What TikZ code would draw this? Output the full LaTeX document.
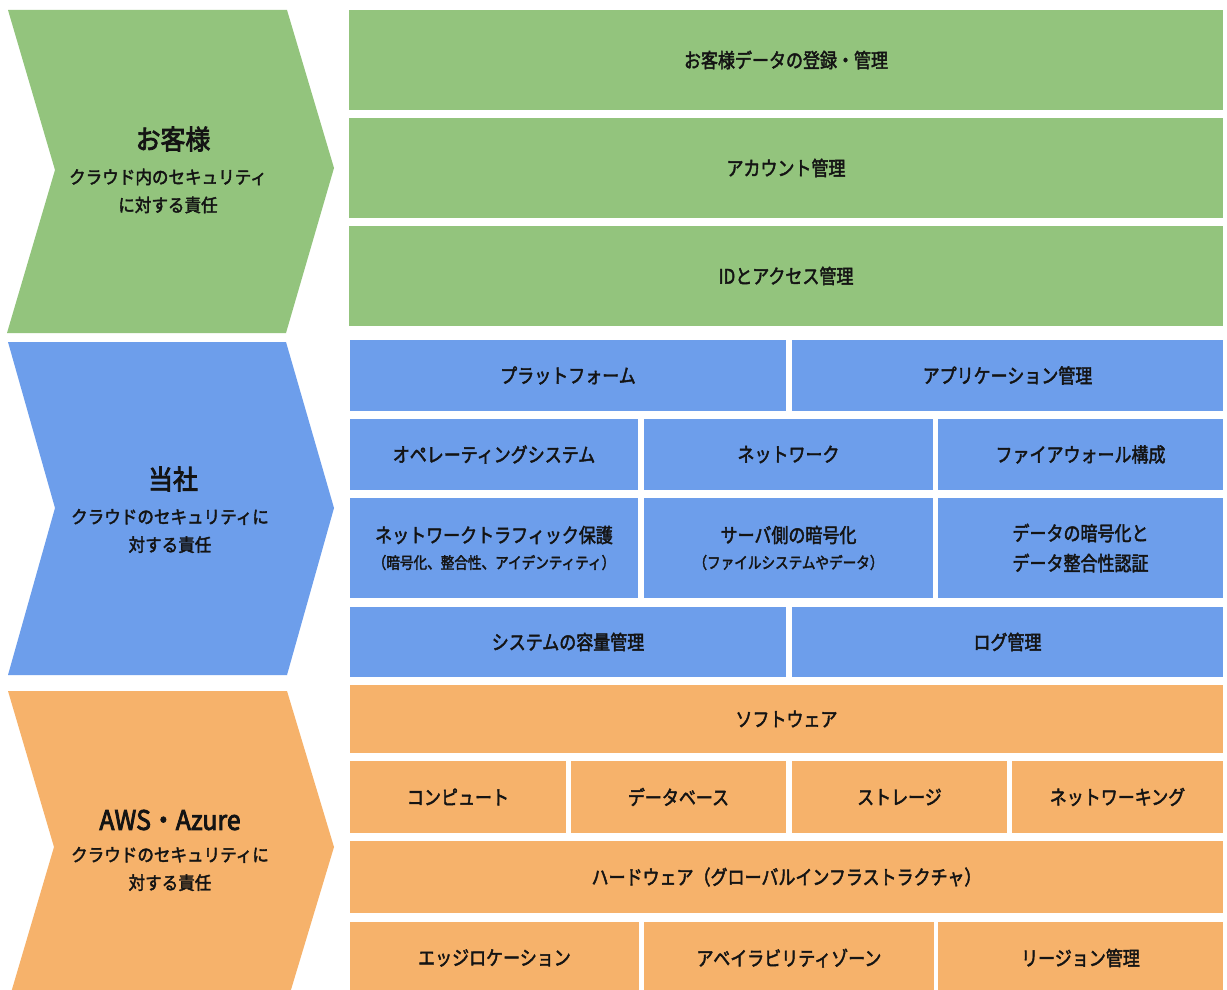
\documentclass[tikz,border=0pt]{standalone}
\usepackage{fontspec}
\newfontfamily\jp[FakeStretch=0.85,FakeBold=2.2]{Noto Sans CJK JP}
\newfontfamily\jpc[FakeStretch=0.92,FakeBold=2.2]{Noto Sans CJK JP}
\newfontfamily\jpt[FakeStretch=0.92,FakeBold=3]{Noto Sans CJK JP}
\definecolor{gcol}{HTML}{93C47D}
\definecolor{bcol}{HTML}{6D9EEB}
\definecolor{ocol}{HTML}{F6B26B}
\definecolor{tcol}{HTML}{141414}
\tikzset{
  cell/.style={rectangle, inner sep=0pt, align=center, text=tcol,
    font=\jp\fontsize{20}{26}\selectfont},
  ctitle/.style={inner sep=0pt, text=tcol, font=\jpt\fontsize{27}{30}\selectfont},
  csub/.style={inner sep=0pt, align=center, text=tcol, font=\jpc\fontsize{18}{28}\selectfont},
}
\newcommand\subl[1]{{\fontsize{16}{26}\selectfont #1}}
\begin{document}
\begin{tikzpicture}[x=1pt,y=-1pt]
\clip (0,0) rectangle (1227,990);
\fill[white] (0,0) rectangle (1227,990);
% chevrons
\fill[gcol] (8,10) -- (287,10) -- (334,168) -- (286,333) -- (7,333) -- (55,170) -- cycle;
\fill[bcol] (8,342) -- (286,342) -- (334,508) -- (287,675) -- (8,675) -- (55,508) -- cycle;
\fill[ocol] (8,691) -- (287,691) -- (334,847) -- (287,1003) -- (8,1003) -- (54,847) -- cycle;
\node[ctitle] (t1) at (173,139) {お客様};
\node[csub] (s1) at (168,191) {クラウド内のセキュリティ\\に対する責任};
\node[ctitle] (t2) at (173,479) {当社};
\node[csub] (s2) at (170,531) {クラウドのセキュリティに\\対する責任};
\node[ctitle] (t3) at (170,820) {AWS・Azure};
\node[csub] (s3) at (170,869) {クラウドのセキュリティに\\対する責任};
% green rows
\node[cell, fill=gcol, minimum width=874, minimum height=100] (g1) at (786,60) {お客様データの登録・管理};
\node[cell, fill=gcol, minimum width=874, minimum height=100] (g2) at (786,168) {アカウント管理};
\node[cell, fill=gcol, minimum width=874, minimum height=100] (g3) at (786,276) {IDとアクセス管理};
% blue rows
\node[cell, fill=bcol, minimum width=436, minimum height=71] (b11) at (568,375.5) {プラットフォーム};
\node[cell, fill=bcol, minimum width=431, minimum height=71] (b12) at (1007.5,375.5) {アプリケーション管理};
\node[cell, fill=bcol, minimum width=288, minimum height=71] (b21) at (494,454.5) {オペレーティングシステム};
\node[cell, fill=bcol, minimum width=289, minimum height=71] (b22) at (788.5,454.5) {ネットワーク};
\node[cell, fill=bcol, minimum width=285, minimum height=71] (b23) at (1080.5,454.5) {ファイアウォール構成};
\node[cell, fill=bcol, minimum width=288, minimum height=100] (b31) at (494,548) {ネットワークトラフィック保護\\\subl{（暗号化、整合性、アイデンティティ）}};
\node[cell, fill=bcol, minimum width=289, minimum height=100] (b32) at (788.5,548) {サーバ側の暗号化\\\subl{（ファイルシステムやデータ）}};
\node[cell, fill=bcol, minimum width=285, minimum height=100, font=\jp\fontsize{20}{30}\selectfont] (b33) at (1080.5,548) {データの暗号化と\\データ整合性認証};
\node[cell, fill=bcol, minimum width=436, minimum height=70] (b41) at (568,642) {システムの容量管理};
\node[cell, fill=bcol, minimum width=431, minimum height=70] (b42) at (1007.5,642) {ログ管理};
% orange rows
\node[cell, fill=ocol, minimum width=873, minimum height=68] (o1) at (786.5,719) {ソフトウェア};
\node[cell, fill=ocol, minimum width=216, minimum height=72] (o21) at (458,797) {コンピュート};
\node[cell, fill=ocol, minimum width=215, minimum height=72] (o22) at (678.5,797) {データベース};
\node[cell, fill=ocol, minimum width=215, minimum height=72] (o23) at (899.5,797) {ストレージ};
\node[cell, fill=ocol, minimum width=211, minimum height=72] (o24) at (1117.5,797) {ネットワーキング};
\node[cell, fill=ocol, minimum width=873, minimum height=72] (o3) at (786.5,877) {ハードウェア（グローバルインフラストラクチャ）};
\node[cell, fill=ocol, minimum width=289, minimum height=72] (o41) at (494.5,958) {エッジロケーション};
\node[cell, fill=ocol, minimum width=290, minimum height=72] (o42) at (789,958) {アベイラビリティゾーン};
\node[cell, fill=ocol, minimum width=285, minimum height=72] (o43) at (1080.5,958) {リージョン管理};
\end{tikzpicture}
\end{document}
